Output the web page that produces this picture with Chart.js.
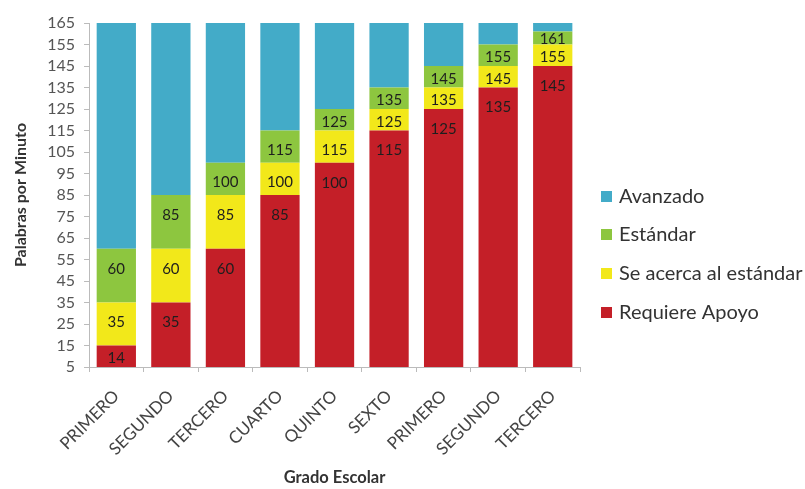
<!DOCTYPE html>
<html>
<head>
<meta charset="utf-8">
<script src="https://cdn.jsdelivr.net/npm/chart.js@4"></script>
<style>
  body { margin: 0; background: #fff; }
  #wrap { width: 805px; height: 489px; }
</style>
</head>
<body>
<div id="wrap"><canvas id="myChart" width="805" height="489"></canvas></div>
<script>
const grados = ["PRIMERO", "SEGUNDO", "TERCERO", "CUARTO", "QUINTO", "SEXTO", "PRIMERO", "SEGUNDO", "TERCERO"];

// segment limits (words per minute) per grade
const base = [5, 5, 5, 5, 5, 5, 5, 5, 5];
const apoyoTop = [15, 35, 60, 85, 100, 115, 125, 135, 145];
const acercaTop = [35, 60, 85, 100, 115, 125, 135, 145, 155];
const estandarTop = [60, 85, 100, 115, 125, 135, 145, 155, 161];
const avanzadoTop = [165, 165, 165, 165, 165, 165, 165, 165, 165];

// numbers printed inside the segments
const apoyoLabels = [14, 35, 60, 85, 100, 115, 125, 135, 145];
const acercaLabels = [35, 60, 85, 100, 115, 125, 135, 145, 155];
const estandarLabels = [60, 85, 100, 115, 125, 135, 145, 155, 161];

const yTicks = [5, 15, 25, 35, 45, 55, 65, 75, 85, 95, 105, 115, 125, 135, 145, 155, 165];

const range = (lo, hi) => lo.map((v, i) => [v, hi[i]]);

// value labels sit a little below the top of each segment
const segLabels = {
  id: "segLabels",
  afterDatasetsDraw(chart) {
    const ctx = chart.ctx;
    ctx.save();
    ctx.font = "15px Lato";
    ctx.fillStyle = "#1e1e1e";
    ctx.textAlign = "center";
    ctx.textBaseline = "middle";
    chart.data.datasets.forEach((ds, i) => {
      if (!ds.shown) return;
      chart.getDatasetMeta(i).data.forEach((bar, j) => {
        const h = bar.base - bar.y;
        ctx.fillText(ds.shown[j], bar.x, bar.y + Math.min(20, h * 0.6));
      });
    });
    ctx.restore();
  }
};

// legend on the right, top item first = last dataset
const sideLegend = {
  id: "sideLegend",
  afterDraw(chart) {
    const ctx = chart.ctx;
    const x = chart.chartArea.right + 21;
    const ys = [196, 234, 273, 312];
    ctx.save();
    ctx.font = "20px Lato";
    ctx.textBaseline = "middle";
    chart.data.datasets.slice().reverse().forEach((ds, k) => {
      ctx.fillStyle = ds.backgroundColor;
      ctx.fillRect(x, ys[k] - 5, 11, 11);
      ctx.fillStyle = "#333";
      ctx.fillText(ds.label, x + 18, ys[k] + 1);
    });
    ctx.restore();
  }
};

new Chart(document.getElementById("myChart"), {
  type: "bar",
  data: {
    labels: grados,
    datasets: [
      { label: "Requiere Apoyo", data: range(base, apoyoTop), shown: apoyoLabels, backgroundColor: "#c41f28" },
      { label: "Se acerca al estándar", data: range(apoyoTop, acercaTop), shown: acercaLabels, backgroundColor: "#f2e81a" },
      { label: "Estándar", data: range(acercaTop, estandarTop), shown: estandarLabels, backgroundColor: "#8dc63f" },
      { label: "Avanzado", data: range(estandarTop, avanzadoTop), backgroundColor: "#43abc8" }
    ]
  },
  options: {
    responsive: false,
    animation: false,
    categoryPercentage: 0.72,
    barPercentage: 1,
    layout: { padding: { top: 23, right: 225, left: 7, bottom: 0 } },
    plugins: {
      legend: { display: false },
      tooltip: { enabled: false }
    },
    scales: {
      x: {
        stacked: true,
        afterFit: scale => { scale.height = 122; },
        grid: { drawOnChartArea: false, tickLength: 5, color: "#bbb" },
        border: { color: "#bbb" },
        ticks: {
          minRotation: 45,
          maxRotation: 45,
          padding: 14,
          color: "#444",
          font: { family: "Lato", size: 17 }
        },
        title: {
          display: true,
          text: "Grado Escolar",
          color: "#333",
          font: { family: "Lato", size: 16.5, weight: "bold" },
          padding: { top: 4, bottom: 1 }
        }
      },
      y: {
        min: 5,
        max: 165,
        afterBuildTicks: axis => { axis.ticks = yTicks.map(v => ({ value: v })); },
        grid: { drawOnChartArea: false, tickLength: 5, color: "#bbb" },
        border: { color: "#bbb" },
        ticks: {
          autoSkip: false,
          color: "#555",
          padding: 9,
          font: { family: "Lato", size: 16 }
        },
        title: {
          display: true,
          text: "Palabras por Minuto",
          color: "#333",
          font: { family: "Lato", size: 16, weight: "bold" },
          padding: { bottom: 8 }
        }
      }
    }
  },
  plugins: [segLabels, sideLegend]
});
</script>
</body>
</html>
